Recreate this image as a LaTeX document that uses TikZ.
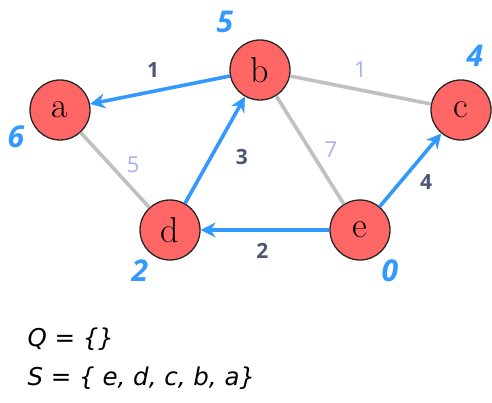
\documentclass[tikz,border=0pt]{standalone}
\usepackage{fontspec}
\usepackage{tikz}
\usetikzlibrary{arrows.meta,positioning,calc}
\newfontfamily\handfont{Open Sans}
\newfontfamily\setfont{DejaVu Sans}
\definecolor{vtxcolor}{RGB}{255,102,102}
\definecolor{treecolor}{RGB}{51,153,255}
\definecolor{plaincolor}{RGB}{192,192,192}
\definecolor{wcolor}{RGB}{75,85,120}
\definecolor{wlight}{RGB}{165,178,238}
\tikzset{
  vtx/.style={circle, draw=black!85, line width=1.3pt, fill=vtxcolor, minimum size=60pt, inner sep=0pt, font=\fontsize{36}{36}\selectfont},
  treeln/.style={-{Stealth[length=15pt,width=15pt,inset=5pt]}, line width=3.6pt, treecolor},
  plainln/.style={line width=3.6pt, plaincolor},
  wlbl/.style={font=\handfont\bfseries\fontsize{21}{21}\selectfont, text=wcolor},
  wlblfaint/.style={font=\handfont\fontsize{22}{22}\selectfont, text=wlight},
  distlbl/.style={font=\handfont\bfseries\itshape\fontsize{30}{30}\selectfont, text=treecolor},
  setline/.style={font=\setfont\itshape\fontsize{24.5}{24.5}\selectfont, anchor=west},
}
\begin{document}
\begin{tikzpicture}[x=1pt, y=-1pt]
  \useasboundingbox (0,0) rectangle (492,403);
  % vertices
  \node[vtx] (a) at (60,110) {a};
  \node[vtx] (b) at (260,70) {b};
  \node[vtx] (c) at (461,110) {c};
  \node[vtx] (d) at (170,230) {d};
  \node[vtx] (e) at (360,230) {e};
  % edges not in the tree
  \draw[plainln] (b) -- (c) node[wlblfaint, pos=0.5, yshift=20pt] (wbc) {1};
  \draw[plainln] (a) -- (d) node[wlblfaint, pos=0.43, xshift=23pt] (wad) {5};
  \draw[plainln] (b) -- (e) node[wlblfaint, pos=0.5, xshift=21pt] (wbe) {7};
  % shortest path tree
  \draw[treeln] (b) -- (a) node[wlbl, pos=0.55, yshift=21pt] (wba) {1};
  \draw[treeln] (d) -- (b) node[wlbl, pos=0.43, xshift=31pt] (wdb) {3};
  \draw[treeln] (e) -- (d) node[wlbl, pos=0.52, yshift=-21pt] (wed) {2};
  \draw[treeln] (e) -- (c) node[wlbl, pos=0.33, xshift=26pt] (wec) {4};
  % distances
  \node[distlbl] (da) at ([shift={(-44,27)}]a) {6};
  \node[distlbl] (db) at ([shift={(-35,-48)}]b) {5};
  \node[distlbl] (dc) at ([shift={(14,-54)}]c) {4};
  \node[distlbl] (dd) at ([shift={(-30,41)}]d) {2};
  \node[distlbl] (de) at ([shift={(30,41)}]e) {0};
  % sets
  \node[setline] (qset) at (24,339) {Q = \{\}};
  \node[setline] (sset) at (24,378) {S = \{ e, d, c, b, a\}};
\end{tikzpicture}
\end{document}
